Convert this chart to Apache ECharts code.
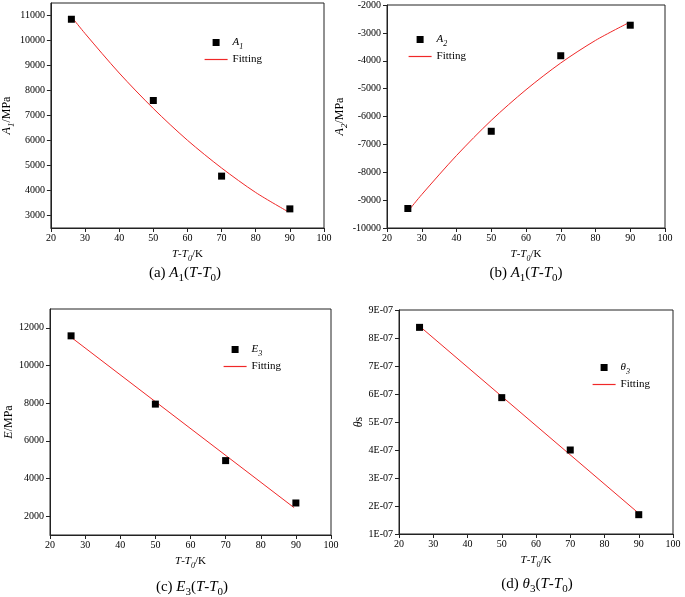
<!DOCTYPE html>
<html>
<head>
<meta charset="utf-8">
<script src="https://cdn.jsdelivr.net/npm/echarts@6/dist/echarts.min.js"></script>
<style>html,body{margin:0;padding:0;background:#fff;}#c{width:685px;height:597px;}</style>
</head>
<body>
<div id="c"></div>
<script>
// ---- data ----
const tempX = [26, 50, 70, 90];
const a1Vals = [10850, 7600, 4575, 3265];
const a2Vals = [-9300, -6530, -3820, -2725];
const e3Vals = [11575, 7950, 4950, 2700];
const theta3Vals = [8.38e-7, 5.87e-7, 4.0e-7, 1.69e-7];

const fitXCurve = [26.5, 30, 40, 50, 60, 70, 80, 89.5];
const a1Fit = [10870, 10280, 8700, 7280, 6010, 4900, 3920, 3150];
const a2Fit = [-9330, -8800, -7400, -6140, -5040, -4080, -3270, -2640];
const fitXLine = [26.5, 89.5];
const e3Fit = [11430, 2450];
const theta3Fit = [8.37e-7, 1.79e-7];

const xTicks = [20, 30, 40, 50, 60, 70, 80, 90, 100];
const a1Ticks = [3000, 4000, 5000, 6000, 7000, 8000, 9000, 10000, 11000];
const a2Ticks = [-10000, -9000, -8000, -7000, -6000, -5000, -4000, -3000, -2000];
const e3Ticks = [2000, 4000, 6000, 8000, 10000, 12000];
const theta3Ticks = [1e-7, 2e-7, 3e-7, 4e-7, 5e-7, 6e-7, 7e-7, 8e-7, 9e-7];

const SERIF = "'Liberation Serif', 'Times New Roman', serif";
const RED = '#f02828';

function rich(size, subItalic) {
  const ss = Math.round(size * 0.72);
  return {
    i: {fontFamily: SERIF, fontStyle: 'italic', fontSize: size, color: '#000', lineHeight: size + 6},
    n: {fontFamily: SERIF, fontSize: size, color: '#000', lineHeight: size + 6},
    s: {fontFamily: SERIF, fontSize: ss, color: '#000', fontStyle: subItalic ? 'italic' : 'normal', verticalAlign: 'bottom', lineHeight: ss + 1}
  };
}
const zip = (xs, ys) => xs.map((x, k) => [x, ys[k]]);

const panels = [
  {grid: {left: 44, top: 3, width: 280, height: 225}, yMin: 2500, yMax: 11500, ticks: a1Ticks,
   yName: '{i|A}{s|1}{n|/MPa}', yGap: 31, pts: zip(tempX, a1Vals), fit: zip(fitXCurve, a1Fit),
   sName: 'A1', sLabel: '{i|A}{s|1}', legend: {left: 204, top: 37},
   caption: '{n|(a) }{i|A}{s|1}{n|(}{i|T}{n|-}{i|T}{s|0}{n|)}', cx: 185, cy: 273, fmt: v => String(v)},
  {grid: {left: 387, top: 4, width: 278, height: 224}, yMin: -10000, yMax: -2000, ticks: a2Ticks,
   yName: '{i|A}{s|2}{n|/MPa}', yGap: 34, pts: zip(tempX, a2Vals), fit: zip(fitXCurve, a2Fit),
   sName: 'A2', sLabel: '{i|A}{s|2}', legend: {left: 408, top: 34},
   caption: '{n|(b) }{i|A}{s|1}{n|(}{i|T}{n|-}{i|T}{s|0}{n|)}', cx: 526, cy: 273, fmt: v => String(v)},
  {grid: {left: 50, top: 309, width: 281, height: 226}, yMin: 1000, yMax: 13000, ticks: e3Ticks,
   yName: '{i|E}{n|/MPa}', yGap: 31, pts: zip(tempX, e3Vals), fit: zip(fitXLine, e3Fit),
   sName: 'E3', sLabel: '{i|E}{s|3}', legend: {left: 223, top: 344},
   caption: '{n|(c) }{i|E}{s|3}{n|(}{i|T}{n|-}{i|T}{s|0}{n|)}', cx: 192, cy: 587, fmt: v => String(v)},
  {grid: {left: 399, top: 310, width: 274, height: 224}, yMin: 1e-7, yMax: 9e-7, ticks: theta3Ticks,
   yName: '{i|θ}{n|s}', yGap: 23, pts: zip(tempX, theta3Vals), fit: zip(fitXLine, theta3Fit),
   sName: 'θ3', sLabel: '{i|θ}{s|3}', legend: {left: 592, top: 362},
   caption: '{n|(d) }{i|θ}{s|3}{n|(}{i|T}{n|-}{i|T}{s|0}{n|)}', cx: 537, cy: 584,
   fmt: v => Math.round(v * 1e7) + 'E-07'}
];

const axisColor = '#222';
const option = {
  backgroundColor: '#fff',
  animation: false,
  grid: [], xAxis: [], yAxis: [], series: [], legend: [], graphic: []
};

panels.forEach((p, k) => {
  const fitName = 'Fitting ' + (k + 1);
  option.grid.push(Object.assign({show: true, borderColor: axisColor, borderWidth: 1, containLabel: false}, p.grid));
  option.xAxis.push({
    type: 'value', gridIndex: k, min: 20, max: 100, interval: 10,
    axisLine: {show: true, lineStyle: {color: axisColor, width: 1}},
    axisTick: {show: true, length: 4, lineStyle: {color: axisColor}},
    axisLabel: {color: '#000', fontFamily: SERIF, fontSize: 10, margin: 5},
    splitLine: {show: false},
    name: '{i|T}{n|-}{i|T}{s|0}{n|/K}', nameLocation: 'middle', nameGap: 18,
    nameTextStyle: {fontFamily: SERIF, fontSize: 11, color: '#000', rich: rich(11, true)}
  });
  option.yAxis.push({
    type: 'value', gridIndex: k, min: p.yMin, max: p.yMax,
    axisLine: {show: true, lineStyle: {color: axisColor, width: 1}},
    axisTick: {show: true, length: 4, lineStyle: {color: axisColor}, customValues: p.ticks},
    axisLabel: {color: '#000', fontFamily: SERIF, fontSize: 10, margin: 6, customValues: p.ticks, formatter: p.fmt},
    splitLine: {show: false},
    name: p.yName, nameLocation: 'middle', nameRotate: 90, nameGap: p.yGap,
    nameTextStyle: {fontFamily: SERIF, fontSize: 12, color: '#000', rich: rich(12, true)}
  });
  option.series.push({
    type: 'scatter', name: p.sName, xAxisIndex: k, yAxisIndex: k,
    data: p.pts, symbol: 'rect', symbolSize: 7,
    itemStyle: {color: '#000', opacity: 1}, z: 3
  });
  option.series.push({
    type: 'line', name: fitName, xAxisIndex: k, yAxisIndex: k,
    data: p.fit, smooth: p.fit.length > 2 ? 0.3 : false, symbol: 'none',
    lineStyle: {color: RED, width: 1}, itemStyle: {color: RED}, z: 2
  });
  const labelMap = {};
  labelMap[p.sName] = p.sLabel;
  labelMap[fitName] = '{n|Fitting}';
  option.legend.push({
    orient: 'vertical', left: p.legend.left, top: p.legend.top,
    itemWidth: 23, itemHeight: 7, itemGap: 3, padding: 0,
    selectedMode: false, symbolKeepAspect: true,
    data: [
      {name: p.sName, icon: 'path://M0,0H10V10H0Z', itemStyle: {color: '#000', opacity: 1}},
      {name: fitName, itemStyle: {opacity: 0}, lineStyle: {color: RED, width: 1.2, opacity: 1}}
    ],
    formatter: n => labelMap[n],
    textStyle: {fontFamily: SERIF, fontSize: 11, color: '#000', rich: rich(11, true)}
  });
  option.graphic.push({
    type: 'text', x: p.cx, y: p.cy,
    style: {text: p.caption, rich: rich(15, false), align: 'center', verticalAlign: 'middle',
            textAlign: 'center', textVerticalAlign: 'middle', fontFamily: SERIF, fontSize: 15, fill: '#000'}
  });
});

const chart = echarts.init(document.getElementById('c'), null, {renderer: 'canvas'});
chart.setOption(option);
</script>
</body>
</html>
